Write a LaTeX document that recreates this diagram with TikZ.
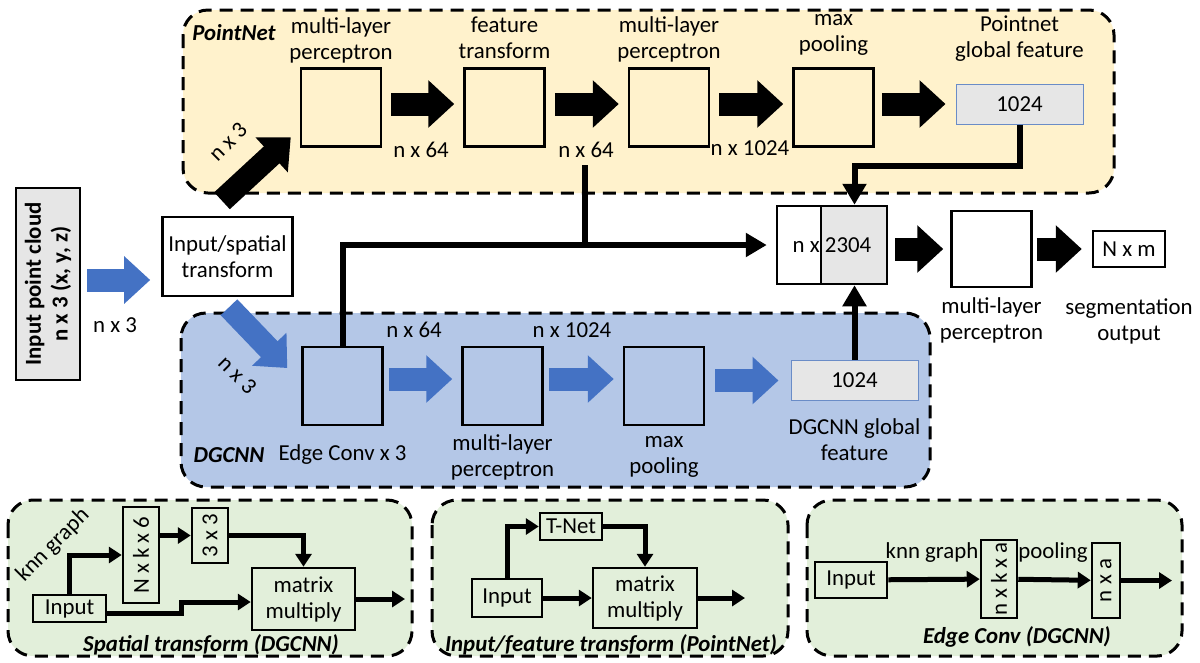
\documentclass[tikz,border=0pt]{standalone}
\usepackage{fontspec}
\setmainfont{Carlito}
\usepackage{tikz}
\usetikzlibrary{positioning,arrows.meta}

\definecolor{pnyellow}{HTML}{FFF2CC}
\definecolor{dgblue}{HTML}{B4C7E7}
\definecolor{arblue}{HTML}{4472C4}
\definecolor{subgreen}{HTML}{E2EFDA}
\definecolor{featgray}{HTML}{E6E6E6}
\definecolor{featedge}{HTML}{6A8CC7}

\begin{document}
\begin{tikzpicture}[node distance=1.5cm,on grid,
    font=\fontsize{13}{14.8}\selectfont,
    panel/.style={draw,line width=0.06cm,dash pattern=on 0.26cm off 0.16cm,rounded corners=0.5cm},
    layer/.style={draw,line width=0.05cm,minimum width=1.6cm,minimum height=1.56cm},
    feat/.style={draw=featedge,fill=featgray,line width=0.02cm,minimum width=2.54cm,minimum height=0.8cm},
    lbl/.style={align=center},
    title/.style={font=\fontsize{13}{14.8}\selectfont\bfseries\itshape},
    blkarrow/.style={line width=0.46cm,-{Triangle[length=0.52cm,width=0.92cm]},shorten <=0.18cm,shorten >=0.18cm},
    bluarrow/.style={blkarrow,arblue},
    conn/.style={line width=0.12cm,-{Triangle[length=0.42cm,width=0.46cm]}},
    sbox/.style={draw,line width=0.05cm,inner sep=1pt},
    sconn/.style={line width=0.1cm,-{Triangle[length=0.26cm,width=0.32cm]}}]
  \useasboundingbox (0,0) rectangle (24,-13.24);

  % panels
  \draw[panel,fill=pnyellow] (3.66,-0.2) rectangle (22.28,-3.86);
  \draw[panel,fill=dgblue] (3.62,-6.26) rectangle (18.6,-9.74);
  \draw[panel,fill=subgreen] (0.16,-10.0) rectangle (8.24,-13.12);
  \draw[panel,fill=subgreen] (8.64,-10.0) rectangle (15.76,-13.12);
  \draw[panel,fill=subgreen] (16.14,-10.0) rectangle (23.64,-13.12);

  % PointNet branch
  \node[title] (pnt) at (4.68,-0.66) {PointNet};
  \node[layer] (mlp1) at (6.82,-2.15) {};
  \node[layer] (ft) [right=3.27cm of mlp1] {};
  \node[layer] (mlp2) [right=3.29cm of ft] {};
  \node[layer] (mp1) [right=3.29cm of mlp2] {};
  \node[feat] (gf1) at (20.39,-2.08) {1024};
  \node[lbl] (mlp1-lbl) [above=1.35cm of mlp1] {multi-layer\\perceptron};
  \node[lbl] (ft-lbl) [above=1.39cm of ft] {feature\\transform};
  \node[lbl] (mlp2-lbl) [above=1.36cm of mlp2] {multi-layer\\perceptron};
  \node[lbl] (mp1-lbl) [above=1.46cm of mp1] {max\\pooling};
  \node[lbl] (gf1-lbl) [above=1.31cm of gf1] {Pointnet\\global feature};
  \node (pd1) at (8.42,-3.0) {n x 64};
  \node (pd2) at (11.72,-3.0) {n x 64};
  \node (pd3) at (15.0,-2.96) {n x 1024};

  % input
  \node[draw,line width=0.05cm,fill=featgray,rotate=90,minimum width=3.84cm,minimum height=1.28cm,
    align=center,font=\fontsize{13}{15.2}\selectfont\bfseries] (pc) at (0.96,-5.68)
    {Input point cloud\\n x 3 (x, y, z)};
  \node[draw,line width=0.05cm,minimum width=2.58cm,minimum height=1.58cm,align=center] (st)
    at (4.55,-5.13) {Input/spatial\\transform};
  \node (pcd) at (2.3,-6.5) {n x 3};
  \node[rotate=45] (upd) at (4.56,-2.84) {n x 3};
  \node[rotate=-45] (dnd) at (4.75,-7.5) {n x 3};

  % merge
  \node[draw,line width=0.05cm,fill=featgray,minimum width=2.2cm,minimum height=1.56cm,
    path picture={
      \fill[white] (path picture bounding box.north west) rectangle ([xshift=0.88cm]path picture bounding box.south west);
      \draw[line width=0.05cm] ([xshift=0.88cm]path picture bounding box.north west) -- ([xshift=0.88cm]path picture bounding box.south west);
    }] (cat) at (16.64,-4.9) {n x 2304};
  \node[layer,minimum height=1.52cm,fill=white] (mlp3) at (19.83,-4.98) {};
  \node[draw,line width=0.05cm,minimum width=1.44cm,minimum height=0.72cm] (out) at (22.58,-4.98) {N x m};
  \node[lbl] (mlp3-lbl) [below=1.43cm of mlp3] {multi-layer\\perceptron};
  \node[lbl] (out-lbl) [below=1.45cm of out] {segmentation\\output};

  % DGCNN branch
  \node[title] (dgt) at (4.58,-9.1) {DGCNN};
  \node[layer] (ec) at (6.85,-7.72) {};
  \node[layer] (dmlp) [right=3.2cm of ec] {};
  \node[layer] (dmp) [right=3.23cm of dmlp] {};
  \node[feat] (dgf) at (17.09,-7.61) {1024};
  \node[lbl] (ec-lbl) [below=1.38cm of ec] {Edge Conv x 3};
  \node[lbl] (dmlp-lbl) [below=1.42cm of dmlp] {multi-layer\\perceptron};
  \node[lbl] (dmp-lbl) [below=1.42cm of dmp] {max\\pooling};
  \node[lbl] (dgf-lbl) [below=1.19cm of dgf] {DGCNN global\\feature};
  \node (dd1) at (8.28,-6.6) {n x 64};
  \node (dd2) at (11.44,-6.6) {n x 1024};

  % block arrows
  \draw[bluarrow,shorten <=0.12cm,shorten >=0.22cm] ([yshift=0.08cm]pc.south) -- ([yshift=0.08cm]pc.south -| st.west);
  \draw[blkarrow,shorten <=0pt,shorten >=0pt] ([shift={(-0.11,0.3)}]st.north) -- ([shift={(-0.18,0.21)}]mlp1.south west);
  \draw[bluarrow,shorten <=0pt,shorten >=0pt] ([shift={(0.03,-0.2)}]st.south) -- ([shift={(-0.28,0.36)}]ec.west);
  \draw[blkarrow] ([yshift=0.07cm]mlp1.east) -- ([yshift=0.07cm]ft.west);
  \draw[blkarrow] ([yshift=0.07cm]ft.east) -- ([yshift=0.07cm]mlp2.west);
  \draw[blkarrow] ([yshift=0.07cm]mlp2.east) -- ([yshift=0.07cm]mp1.west);
  \draw[blkarrow,shorten <=0.14cm,shorten >=0.2cm] (gf1.west -| mp1.east) -- (gf1.west);
  \draw[blkarrow,shorten <=0.14cm,shorten >=0.14cm] (mlp3.west -| cat.east) -- (mlp3.west);
  \draw[blkarrow,shorten <=0.08cm,shorten >=0.2cm] (mlp3) -- (out);
  \draw[bluarrow,shorten <=0.1cm,shorten >=0.18cm] ([yshift=0.14cm]ec.east) -- ([yshift=0.14cm]dmlp.west);
  \draw[bluarrow,shorten <=0.1cm,shorten >=0.18cm] ([yshift=0.14cm]dmlp.east) -- ([yshift=0.14cm]dmp.west);
  \draw[bluarrow,shorten <=0.2cm,shorten >=0.24cm] (dgf.west -| dmp.east) -- (dgf.west);

  % feature lines
  \coordinate (tap) at (11.7,-3.3);
  \draw[conn] (gf1.south) -- ++(0,-0.82) -| (cat.north -| dgf.north);
  \draw[conn] (dgf.north) -- (dgf.north |- cat.south);
  \draw[conn,shorten >=0.18cm] (ec.north) |- (cat.west);
  \draw[line width=0.12cm] (tap) -- (tap |- cat.west);

  % spatial transform (DGCNN)
  \node[sbox,minimum width=1.46cm,minimum height=0.54cm] (in1) at (1.39,-12.17) {Input};
  \node[sbox,rotate=90,minimum width=1.92cm,minimum height=0.72cm] (nkk6) at (2.82,-11.1) {N x k x 6};
  \node[sbox,rotate=90,minimum width=1.1cm,minimum height=0.72cm] (t33) at (4.2,-10.71) {3 x 3};
  \node[sbox,minimum width=2.06cm,minimum height=1.24cm,align=center] (mm1) at (6.07,-11.98) {matrix\\multiply};
  \node[rotate=45] (knn1) at (1.06,-10.9) {knn graph};
  \node[title] (st-title) at (4.22,-12.9) {Spatial transform (DGCNN)};
  \coordinate (o1) at (8.1,-11.98);
  \draw[sconn] (in1.north) |- (nkk6.north);
  \draw[sconn] (nkk6.south |- t33.north) -- (t33.north);
  \draw[sconn] (t33.south) -| (mm1.north);
  \draw[sconn] ([yshift=-0.09cm]in1.east) -- ++(1.48,0) |- ([yshift=-0.06cm]mm1.west);
  \draw[sconn] (mm1.east) -- (o1);

  % input/feature transform (PointNet)
  \node[sbox,minimum width=1.24cm,minimum height=0.54cm] (tnet) at (11.42,-10.53) {T-Net};
  \node[sbox,minimum width=1.4cm,minimum height=0.76cm] (in2) at (10.14,-11.96) {Input};
  \node[sbox,minimum width=2.08cm,minimum height=1.2cm,align=center] (mm2) at (12.9,-11.96) {matrix\\multiply};
  \node[title] (ft-title) at (12.22,-12.9) {Input/feature transform (PointNet)};
  \coordinate (o2) at (14.9,-11.96);
  \draw[sconn] (in2.north) |- (tnet.west);
  \draw[sconn] (tnet.east) -| (mm2.north);
  \draw[sconn] (in2) -- (mm2);
  \draw[sconn] (mm2.east) -- (o2);

  % edge conv (DGCNN)
  \node[sbox,minimum width=1.44cm,minimum height=0.72cm] (in3) at (17.02,-11.6) {Input};
  \node[sbox,rotate=90,minimum width=1.56cm,minimum height=0.72cm] (nkxa) at (19.98,-11.58) {n x k x a};
  \node[sbox,rotate=90,minimum width=1.5cm,minimum height=0.56cm] (nxa) at (22.12,-11.61) {n x a};
  \node (knn3) at (18.64,-11.06) {knn graph};
  \node (pool3) at (21.06,-11.06) {pooling};
  \node[title] (ec-title) at (20.34,-12.74) {Edge Conv (DGCNN)};
  \coordinate (o3) at (23.44,-11.61);
  \draw[sconn] (in3) -- (nkxa);
  \draw[sconn] (nkxa) -- (nxa);
  \draw[sconn] (nxa.south) -- (o3);
\end{tikzpicture}
\end{document}
